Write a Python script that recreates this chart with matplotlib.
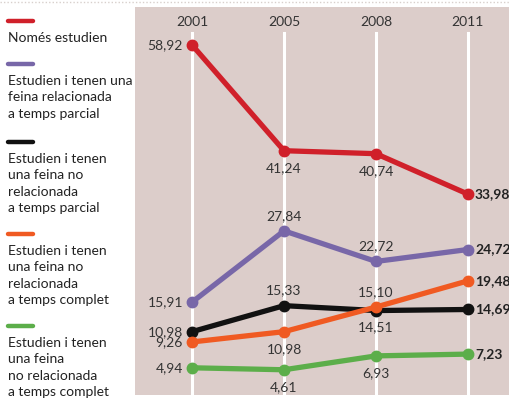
import matplotlib
matplotlib.use("Agg")
import matplotlib.pyplot as plt
from matplotlib.lines import Line2D

plt.rcParams['font.family'] = ['Lato', 'DejaVu Sans']

years = ['2001', '2005', '2008', '2011']
nomes = [58.92, 41.24, 40.74, 33.98]
rel_parcial = [15.91, 27.84, 22.72, 24.72]
norel_parcial = [10.98, 15.33, 14.51, 14.69]
norel_complet = [9.26, 10.98, 15.10, 19.48]
norel_complet2 = [4.94, 4.61, 6.93, 7.23]

legend_labels = [
    ['Només estudien'],
    ['Estudien i tenen una', 'feina relacionada', 'a temps parcial'],
    ['Estudien i tenen', 'una feina no', 'relacionada', 'a temps parcial'],
    ['Estudien i tenen', 'una feina no', 'relacionada', 'a temps complet'],
    ['Estudien i tenen', 'una feina', 'no relacionada', 'a temps complet'],
]
series = [nomes, rel_parcial, norel_parcial, norel_complet, norel_complet2]
colors = ['#d0202a', '#7867a8', '#111111', '#f05a22', '#5cae4a']
# label placement for each point: 'l' left, 'a' above, 'b' below, 'r' right
placement = [
    ['l', 'b', 'b', 'r'],
    ['l', 'a', 'a', 'r'],
    ['l', 'a', 'b', 'r'],
    ['l', 'b', 'a', 'r'],
    ['l', 'b', 'b', 'r'],
]

W, H = 509, 400
fig = plt.figure(figsize=(W / 100, H / 100), dpi=100)
ax = fig.add_axes([135 / W, 5 / H, 1 - 135 / W, (395 - 7) / H])
ax.set_facecolor('#dccdca')
x = list(range(len(years)))
ax.set_xlim(-0.62, 3.446)
ax.set_ylim(0.39, 65.27)
for s in ax.spines.values():
    s.set_visible(False)
ax.set_xticks([])
ax.set_yticks([])

# faint dotted rule at the very top
fig.add_artist(Line2D([0, 1], [1 - 1.5 / H, 1 - 1.5 / H], color='#d8d0cc',
                      lw=1, ls=(0, (1, 1.5))))

for xi, yr in zip(x, years):
    ax.plot([xi, xi], [0.39, 60.9], color='white', lw=2.2, zorder=1)
    ax.text(xi, 62.8, yr, ha='center', va='center', fontsize=10, color='#333333')

for vals, col, pl in zip(series, colors, placement):
    ax.plot(x, vals, color=col, lw=3.8, marker='o', markersize=7.5,
            solid_capstyle='round', zorder=3)
    for xi, v, p in zip(x, vals, pl):
        txt = f"{v:.2f}".replace('.', ',')
        if p == 'l':
            ax.annotate(txt, (xi, v), xytext=(-9, 0), textcoords='offset pixels',
                        ha='right', va='center', fontsize=10, color='#333333', zorder=4)
        elif p == 'a':
            ax.annotate(txt, (xi, v), xytext=(0, 15), textcoords='offset pixels',
                        ha='center', va='center', fontsize=10, color='#333333', zorder=4)
        elif p == 'b':
            ax.annotate(txt, (xi, v), xytext=(0, -17), textcoords='offset pixels',
                        ha='center', va='center', fontsize=10, color='#333333', zorder=4)
        else:
            ax.annotate(txt, (xi, v), xytext=(7, 0), textcoords='offset pixels',
                        ha='left', va='center', fontsize=10, color='#222222',
                        fontweight='bold', zorder=4, annotation_clip=False)

# Left legend
bar_y = [21, 64, 142, 234, 326]
line_h = 16.4
for by, lines, col in zip(bar_y, legend_labels, colors):
    fig.add_artist(Line2D([8 / W, 33 / W], [1 - by / H, 1 - by / H],
                          color=col, lw=3.2, solid_capstyle='round'))
    for i, ln in enumerate(lines):
        yb = by + 21 + i * line_h
        fig.text(8 / W, 1 - yb / H, ln, ha='left', va='baseline',
                 fontsize=10, color='#222222')

fig.savefig('out.png', dpi=100)
